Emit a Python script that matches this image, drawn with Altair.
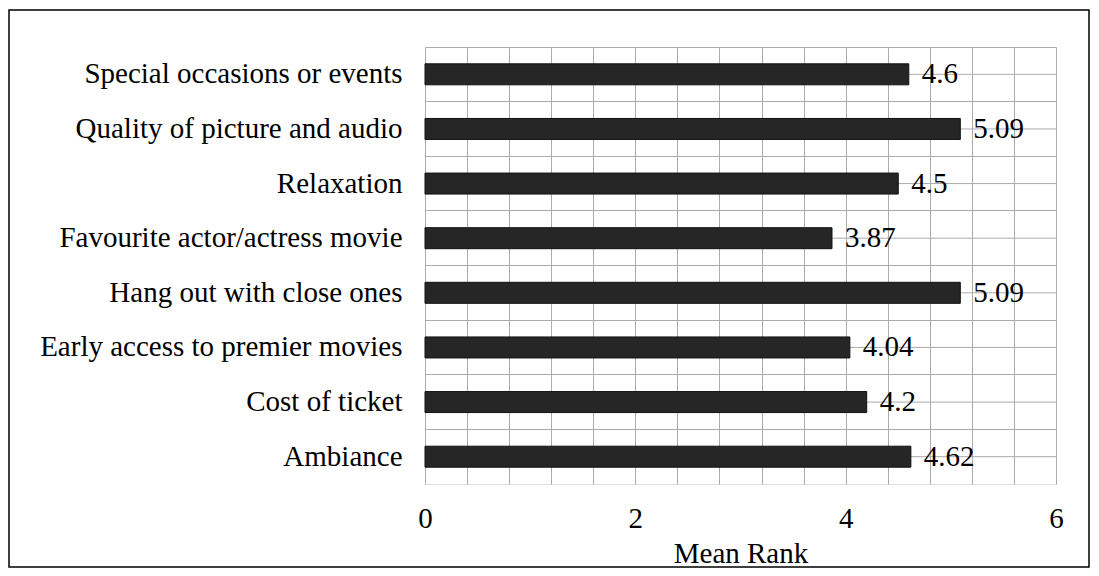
import altair as alt
import pandas as pd

categories = [
    "Special occasions or events",
    "Quality of picture and audio",
    "Relaxation",
    "Favourite actor/actress movie",
    "Hang out with close ones",
    "Early access to premier movies",
    "Cost of ticket",
    "Ambiance",
]
values = [4.6, 5.09, 4.5, 3.87, 5.09, 4.04, 4.2, 4.62]
value_labels = ["4.6", "5.09", "4.5", "3.87", "5.09", "4.04", "4.2", "4.62"]
x_grid_values = [round(i * 0.4, 1) for i in range(16)]

df = pd.DataFrame({"cat": categories, "val": values, "lab": value_labels})

FONT = "Liberation Serif"
FS = 29
GRID = "#ababab"

W, H = 631, 437
PL, PT, PR, PB = 417, 39, 34, 84

y_enc = alt.Y(
    "cat:N",
    sort=categories,
    title=None,
    scale=alt.Scale(paddingInner=0, paddingOuter=0),
    axis=alt.Axis(
        labelFont=FONT, labelFontSize=FS, labelColor="black", labelPadding=23,
        ticks=False, domain=False, grid=True, gridColor=GRID, gridWidth=1,
        bandPosition=0, labelLimit=600,
    ),
)

x_enc = alt.X(
    "val:Q",
    title="Mean Rank",
    scale=alt.Scale(domain=[0, 6], nice=False),
    axis=alt.Axis(
        values=x_grid_values,
        labelExpr="datum.value % 2 == 0 ? format(datum.value, 'd') : ''",
        labelFlush=False, labelOverlap=False,
        labelFont=FONT, labelFontSize=FS, labelColor="black", labelPadding=20,
        ticks=False, domain=False, grid=True, gridColor=GRID, gridWidth=1,
        titleFont=FONT, titleFontSize=FS, titleFontWeight="normal",
        titleColor="black", titlePadding=6,
    ),
)

base = alt.Chart(df)

center_rules = base.mark_rule(color=GRID, strokeWidth=1).encode(
    y=alt.Y("cat:N", sort=categories)
)

bars = base.mark_bar(color="#262626", size=21, stroke="#111111", strokeWidth=1).encode(
    x=x_enc, y=y_enc
)

texts = base.mark_text(
    align="left", baseline="middle", dx=13, font=FONT, fontSize=FS, color="black"
).encode(x="val:Q", y=alt.Y("cat:N", sort=categories), text="lab:N")

frame = alt.Chart(pd.DataFrame({"a": [0]})).mark_rect(
    fill=None, stroke="black", strokeWidth=1.5
).encode(
    x=alt.value(-PL + 1), x2=alt.value(W + PR - 1),
    y=alt.value(-PT + 2), y2=alt.value(H + PB - 1),
)

chart = alt.layer(center_rules, bars, texts, frame).properties(
    width=W, height=H,
    autosize=alt.AutoSizeParams(type="none"),
    padding={"left": PL, "top": PT, "right": PR, "bottom": PB},
).configure_view(stroke=GRID, strokeWidth=1).configure(background="white")

chart.save("out.html", embed_options={"renderer": "svg", "actions": False})
